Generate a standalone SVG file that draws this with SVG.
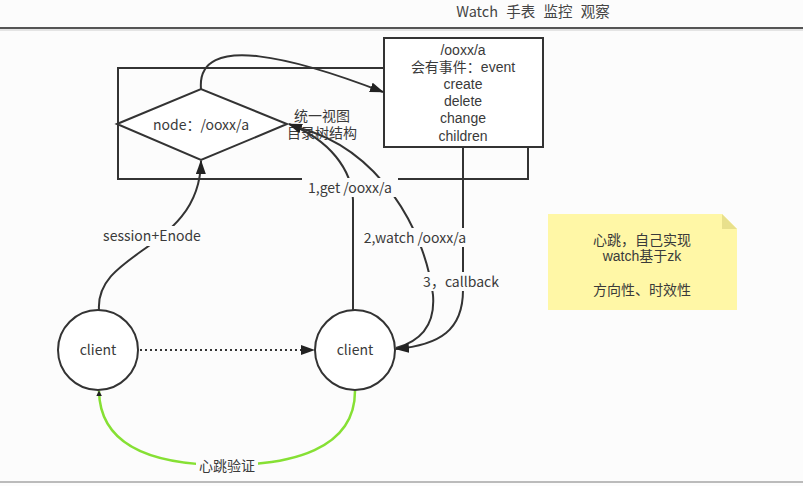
<svg xmlns="http://www.w3.org/2000/svg" width="803" height="486" viewBox="0 0 803 486">
<style>
text{font-family:"Noto Sans CJK SC","Noto Sans",sans-serif;font-size:14px;fill:#3a3a3a;text-anchor:middle}
.t{font-family:"Liberation Sans","Noto Sans CJK SC",sans-serif;font-size:14px}
.s{fill:none;stroke:#333;stroke-width:2}
.w{fill:#fff;stroke:#333;stroke-width:2}
.lbl{fill:#fcfcfc}
</style>
<defs>
<marker id="ah" viewBox="0 0 10 10" refX="9" refY="5" markerWidth="6" markerHeight="6" markerUnits="userSpaceOnUse" orient="auto">
<path d="M0,0 L10,5 L0,10 z" fill="#222"/>
</marker>
<marker id="a2" viewBox="0 0 14 10" refX="13" refY="5" markerWidth="14" markerHeight="10" markerUnits="userSpaceOnUse" orient="auto">
<path d="M0,0 L14,5 L0,10 z" fill="#222"/>
</marker>
</defs>
<rect x="0" y="0" width="803" height="486" fill="#fcfcfc"/>
<text x="533" y="17" style="font-size:14.5px;fill:#444;word-spacing:5px">Watch 手表 监控 观察</text>
<line x1="0" y1="28" x2="803" y2="28" stroke="#555" stroke-width="2"/>
<line x1="0" y1="30" x2="803" y2="30" stroke="#ccc" stroke-width="1"/>
<line x1="0" y1="482" x2="803" y2="482" stroke="#bbb" stroke-width="2"/>

<g id="container"><rect x="118" y="68" width="410" height="111" class="s"/></g>
<g id="eventbox">
<rect x="384" y="38" width="159" height="109" class="w"/>
<text class="t" x="463" y="55">/ooxx/a</text>
<text class="t" x="463" y="72">会有事件：event</text>
<text class="t" x="463" y="89">create</text>
<text class="t" x="463" y="106">delete</text>
<text class="t" x="463" y="123">change</text>
<text class="t" x="463" y="141">children</text>
</g>
<g id="node">
<path d="M117,124 L201,89 L287,124 L201,160 Z" class="w"/>
<text x="201" y="130">node：/ooxx/a</text>
</g>
<g id="view-label">
<text class="t" x="322" y="121">统一视图</text>
<text class="t" x="322" y="138">目录树结构</text>
</g>
<g id="client1"><circle cx="98" cy="350" r="40" class="w"/><text x="98" y="355">client</text></g>
<g id="client2"><circle cx="355" cy="350" r="40" class="w"/><text x="355" y="355">client</text></g>
<g id="note">
<path d="M548,214 L722,214 L737,229 L737,310 L548,310 Z" fill="#fff7a6"/>
<path d="M722,214 L722,229 L737,229 Z" fill="#e8e08c"/>
<text class="t" x="642" y="245">心跳，自己实现</text>
<text class="t" x="642" y="261">watch基于zk</text>
<text class="t" x="642" y="295">方向性、时效性</text>
</g>

<g id="connectors">
<path d="M201,89 C196,30 300,60 383,92" class="s" marker-end="url(#a2)"/>
<path d="M99,310 C95,250 200,250 201,161" class="s" marker-end="url(#a2)"/>
<path d="M353,310 L353,200 C352,170 330,140 289,124" class="s" marker-end="url(#a2)"/>
<path d="M396,348 C425,340 435,320 433,295 C425,230 380,150 300,128" class="s"/>
<path d="M463,148 L463,290 C463,330 440,345 396,349" class="s" marker-end="url(#a2)"/>
<path d="M140,350 L314,350" class="s" stroke-dasharray="2,3" marker-end="url(#a2)"/>
<path d="M355,391 C355,450 290,465 226,465 C160,465 100,450 99,391" fill="none" stroke="#86e034" stroke-width="2.5" marker-end="url(#ah)"/>
<rect x="98" y="226" width="108" height="20" class="lbl"/>
<text x="152" y="241">session+Enode</text>
<rect x="302" y="178" width="96" height="19" class="lbl"/>
<text x="350" y="193">1,get /ooxx/a</text>
<rect x="357" y="228" width="116" height="19" class="lbl"/>
<text x="415" y="243">2,watch /ooxx/a</text>
<rect x="420" y="272" width="82" height="19" class="lbl"/>
<text x="461" y="287">3，callback</text>
<rect x="196" y="457" width="62" height="18" class="lbl"/>
<text x="227" y="471">心跳验证</text>
</g>
</svg>
